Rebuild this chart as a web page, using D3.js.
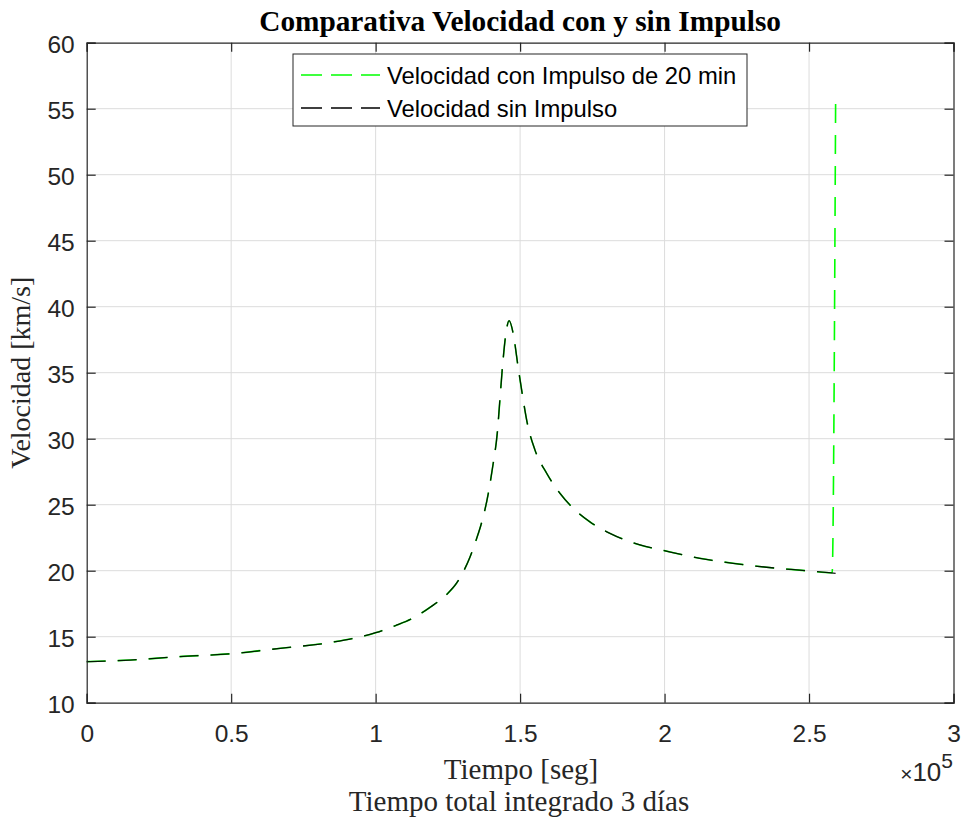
<!DOCTYPE html>
<html lang="es">
<head>
<meta charset="UTF-8">
<title>Comparativa Velocidad</title>
<script src="https://d3js.org/d3.v7.min.js"></script>
<style>
  body { margin: 0; background: #fff; }
  svg { display: block; }
</style>
</head>
<body>
<svg id="chart" width="964" height="821"></svg>
<script>
// Datos: tiempo [seg] y velocidad [km/s]
const tiempo = [0, 15000, 32000, 50000, 67000, 84000, 100000, 107000, 113000, 119000,
  124600, 128000, 130300, 132600, 135500, 136300, 139000, 140700, 142100, 143000,
  143900, 145100, 146200, 147600, 149300, 150900, 152500, 155100, 159200, 163800,
  169000, 174100, 181100, 191500, 199900, 212200, 223700, 235300, 249100, 259200];
const velSinImpulso = [13.11, 13.23, 13.49, 13.71, 14.12, 14.55, 15.30, 15.85, 16.42, 17.25,
  18.20, 19.05, 19.90, 21.00, 22.80, 23.35, 25.86, 28.14, 30.42, 32.93,
  35.45, 37.98, 38.94, 37.98, 35.45, 33.18, 31.17, 29.17, 27.38, 25.86,
  24.60, 23.71, 22.83, 21.95, 21.52, 20.94, 20.56, 20.26, 20.00, 19.80];

// tramo final del impulso de 20 min (ultimos 1200 s)
const tiempoImpulso = [258000, 259200];
const velImpulso = [19.85, 55.45];

const xTicks = [0, 50000, 100000, 150000, 200000, 250000, 300000];
const xTickLabels = ["0", "0.5", "1", "1.5", "2", "2.5", "3"];
const yTicks = [10, 15, 20, 25, 30, 35, 40, 45, 50, 55, 60];

const serie = ["Velocidad con Impulso de 20 min", "Velocidad sin Impulso"];
const colores = ["#00ff00", "#000000"];

// serie con impulso = misma trayectoria hasta el impulso
const sinImp = tiempo.map((t, i) => ({ t, v: velSinImpulso[i] }));
const conImp = sinImp.filter(d => d.t < tiempoImpulso[0])
  .concat(tiempoImpulso.map((t, i) => ({ t, v: velImpulso[i] })));

const svg = d3.select("#chart");
const mLeft = 86.7, mRight = 953.5, mTop = 42.7, mBottom = 702.7;
const axisColor = "#262626";
const sans = "'Liberation Sans', Arial, Helvetica, sans-serif";
const serif = "'Liberation Serif', 'Times New Roman', serif";

const x = d3.scaleLinear().domain([0, 300000]).range([mLeft, mRight]);
const y = d3.scaleLinear().domain([10, 60]).range([mBottom, mTop]);

svg.append("rect").attr("x", mLeft).attr("y", mTop)
  .attr("width", mRight - mLeft).attr("height", mBottom - mTop).attr("fill", "#fff");

// grid
const grid = svg.append("g").attr("stroke", "#dcdcdc").attr("stroke-width", 1);
grid.selectAll(".gx").data(xTicks.slice(1, -1)).enter().append("line")
  .attr("x1", d => x(d)).attr("x2", d => x(d)).attr("y1", mTop).attr("y2", mBottom);
grid.selectAll(".gy").data(yTicks.slice(1, -1)).enter().append("line")
  .attr("y1", d => y(d)).attr("y2", d => y(d)).attr("x1", mLeft).attr("x2", mRight);

// lineas
const line = d3.line().x(d => x(d.t)).y(d => y(d.v)).curve(d3.curveMonotoneX);
const plot = svg.append("g");
plot.append("path").datum(conImp).attr("d", line)
  .attr("fill", "none").attr("stroke", colores[0]).attr("stroke-width", 1.6)
  .attr("stroke-dasharray", "19,12");
plot.append("path").datum(sinImp).attr("d", line)
  .attr("fill", "none").attr("stroke", colores[1]).attr("stroke-width", 1.3)
  .attr("stroke-opacity", 0.9)
  .attr("stroke-dasharray", "19,12");

// ejes con ticks hacia adentro (caja completa)
const tick = 9;
const axisX = d3.axisBottom(x).tickValues(xTicks).tickSize(-tick).tickFormat((d, i) => xTickLabels[i]).tickPadding(22);
const axisY = d3.axisLeft(y).tickValues(yTicks).tickSize(-tick).tickPadding(12);
const gx = svg.append("g").attr("transform", `translate(0,${mBottom})`).call(axisX);
const gy = svg.append("g").attr("transform", `translate(${mLeft},0)`).call(axisY);
const gxTop = svg.append("g").attr("transform", `translate(0,${mTop})`)
  .call(d3.axisTop(x).tickValues(xTicks).tickSize(-tick).tickFormat(""));
const gyRight = svg.append("g").attr("transform", `translate(${mRight},0)`)
  .call(d3.axisRight(y).tickValues(yTicks).tickSize(-tick).tickFormat(""));
[gx, gy, gxTop, gyRight].forEach(g => {
  g.select(".domain").attr("stroke", axisColor).attr("stroke-width", 1.2);
  g.selectAll(".tick line").attr("stroke", axisColor).attr("stroke-width", 1.2);
  g.selectAll(".tick text").attr("fill", axisColor).style("font-family", sans).style("font-size", "24.5px");
});
gy.selectAll(".tick text").attr("dy", "0.42em");

// leyenda
const leg = svg.append("g");
leg.append("rect").attr("x", 293).attr("y", 54).attr("width", 454).attr("height", 72)
  .attr("fill", "#fff").attr("stroke", axisColor).attr("stroke-width", 1);
serie.forEach((s, i) => {
  const yy = 75 + i * 33;
  leg.append("line").attr("x1", 301).attr("x2", 380).attr("y1", yy).attr("y2", yy)
    .attr("stroke", colores[i]).attr("stroke-width", 1.5).attr("stroke-dasharray", "21,9");
  leg.append("text").attr("x", 387).attr("y", yy).attr("dy", "0.36em")
    .style("font-family", sans).style("font-size", "23.8px").attr("fill", "#000").text(s);
});

// titulos
svg.append("text").attr("x", (mLeft + mRight) / 2).attr("y", 31).attr("text-anchor", "middle")
  .style("font-family", serif).style("font-weight", "bold").style("font-size", "29.3px")
  .attr("fill", "#000").text("Comparativa Velocidad con y sin Impulso");
svg.append("text").attr("x", 521).attr("y", 779).attr("text-anchor", "middle")
  .style("font-family", serif).style("font-size", "29px").attr("fill", axisColor).text("Tiempo [seg]");
svg.append("text").attr("x", 519).attr("y", 811).attr("text-anchor", "middle")
  .style("font-family", serif).style("font-size", "29px").attr("fill", axisColor).text("Tiempo total integrado 3 días");
svg.append("text").attr("transform", `translate(30,${(mTop + mBottom) / 2}) rotate(-90)`)
  .attr("text-anchor", "middle")
  .style("font-family", serif).style("font-size", "28px").attr("fill", axisColor).text("Velocidad [km/s]");

// multiplicador x10^5
const mult = svg.append("text").attr("x", 953).attr("y", 781).attr("text-anchor", "end")
  .style("font-family", sans).style("font-size", "26px").attr("fill", axisColor);
mult.append("tspan").style("font-size", "21px").text("\u00d7");
mult.append("tspan").text("10");
mult.append("tspan").attr("dy", -13).style("font-size", "21px").text("5");
</script>
</body>
</html>
